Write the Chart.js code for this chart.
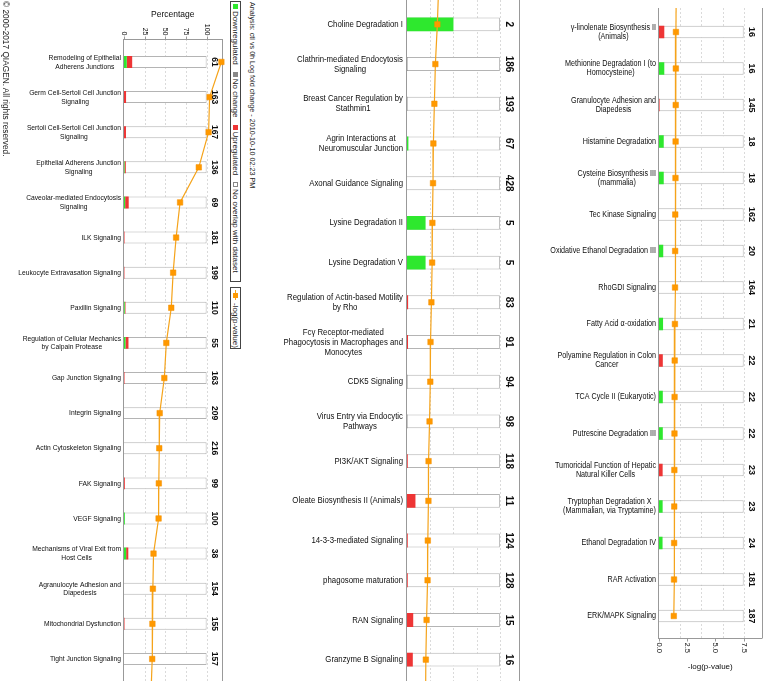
<!DOCTYPE html>
<html>
<head>
<meta charset="utf-8">
<script src="https://cdn.jsdelivr.net/npm/chart.js@4.4.1/dist/chart.umd.min.js"></script>
<style>
  html, body { margin: 0; padding: 0; background: #fff; overflow: hidden; }
  body { width: 766px; height: 681px; position: relative; }
  canvas { position: absolute; top: 0; }
  .rot {
    position: absolute; transform-origin: 0 0; transform: rotate(90deg);
    white-space: nowrap; font-family: "Liberation Sans", Arial, sans-serif; color: #222;
  }
  .box { border: 1px solid #444; box-sizing: border-box; display: flex; align-items: center; padding-left: 2px; }
  .sw { display: inline-block; width: 5px; height: 5px; margin-right: 2px; box-sizing: border-box; }
  .item { display: flex; align-items: center; margin-right: 7px; font-size: 8px; line-height: 9px; }
</style>
</head>
<body>
<canvas id="chart1" width="226" height="681" style="left:0px"></canvas>
<canvas id="chart2" width="253" height="684" style="left:270px"></canvas>
<canvas id="chart3" width="236" height="681" style="left:530px"></canvas>

<div class="rot" style="left:10px; top:1px; font-size:8.3px; line-height:9px;">© 2000-2017 QIAGEN. All rights reserved.</div>
<div class="rot" style="left:256px; top:2px; font-size:7.2px; line-height:8px;">Analysis: ctl vs 0h Log fold change - 2010-10-10 02:23 PM</div>
<div class="rot box" style="left:241px; top:1px; width:281px; height:11px;">
  <span class="item"><span class="sw" style="background:#2ee82e"></span>Downregulated</span>
  <span class="item"><span class="sw" style="background:#888"></span>No change</span>
  <span class="item"><span class="sw" style="background:#ee3535"></span>Upregulated</span>
  <span class="item"><span class="sw" style="background:#fff; border:1px solid #888"></span>No overlap with dataset</span>
</div>
<div class="rot box" style="left:241px; top:287px; width:62px; height:11px;">
  <span class="item"><span style="position:relative; display:inline-block; width:10px; height:5px; margin-right:3px;"><span style="position:absolute; left:0; top:2px; width:10px; height:1px; background:#f5a31a"></span><span style="position:absolute; left:2.5px; top:0; width:5px; height:5px; background:#ff9900"></span></span>-log(p-value)</span>
</div>

<script>
const pctTicks = [0, 25, 50, 75, 100]
const logTicks = [0, 2.5, 5, 7.5]

// panel 1
const labels1 = [
  ['Remodeling of Epithelial', 'Adherens Junctions'],
  ['Germ Cell-Sertoli Cell Junction', 'Signaling'],
  ['Sertoli Cell-Sertoli Cell Junction', 'Signaling'],
  ['Epithelial Adherens Junction', 'Signaling'],
  ['Caveolar-mediated Endocytosis', 'Signaling'],
  'ILK Signaling',
  'Leukocyte Extravasation Signaling',
  'Paxillin Signaling',
  ['Regulation of Cellular Mechanics', 'by Calpain Protease'],
  'Gap Junction Signaling',
  'Integrin Signaling',
  'Actin Cytoskeleton Signaling',
  'FAK Signaling',
  'VEGF Signaling',
  ['Mechanisms of Viral Exit from', 'Host Cells'],
  ['Agranulocyte Adhesion and', 'Diapedesis'],
  'Mitochondrial Dysfunction',
  'Tight Junction Signaling',
]
const counts1 = [61, 163, 167, 136, 69, 181, 199, 110, 55, 163, 209, 216, 99, 100, 38, 154, 155, 157]
const down1 = [3.3, 0, 0, 0.7, 1.4, 0, 0, 0.9, 1.8, 0, 0, 0, 0, 1.0, 2.6, 0, 0, 0]
const nochange1 = [0, 0, 0, 0, 0, 0, 0, 0, 0, 0, 0, 0, 0, 0, 0, 0, 0, 0]
const up1 = [6.6, 2.5, 2.4, 1.5, 4.3, 0.6, 0.5, 0.9, 3.6, 0.6, 0, 0, 1.0, 0, 2.6, 0, 0.6, 0]
const logp1 = [8.84, 7.77, 7.68, 6.79, 5.09, 4.73, 4.46, 4.29, 3.84, 3.66, 3.24, 3.2, 3.16, 3.14, 2.68, 2.62, 2.58, 2.56]

// panel 2
const labels2 = [
  'Choline Degradation I',
  ['Clathrin-mediated Endocytosis', 'Signaling'],
  ['Breast Cancer Regulation by', 'Stathmin1'],
  ['Agrin Interactions at', 'Neuromuscular Junction'],
  'Axonal Guidance Signaling',
  'Lysine Degradation II',
  'Lysine Degradation V',
  ['Regulation of Actin-based Motility', 'by Rho'],
  ['Fcγ Receptor-mediated', 'Phagocytosis in Macrophages and', 'Monocytes'],
  'CDK5 Signaling',
  ['Virus Entry via Endocytic', 'Pathways'],
  'PI3K/AKT Signaling',
  'Oleate Biosynthesis II (Animals)',
  '14-3-3-mediated Signaling',
  'phagosome maturation',
  'RAN Signaling',
  'Granzyme B Signaling',
]
const counts2 = [2, 186, 193, 67, 428, 5, 5, 83, 91, 94, 98, 118, 11, 124, 128, 15, 16]
const down2 = [50, 0, 0, 1.5, 0, 20, 20, 0, 0, 0, 0, 0, 0, 0, 0, 0, 0]
const nochange2 = [0, 0.5, 0.5, 0, 0, 0, 0, 0, 0, 0.5, 0.5, 0, 0, 0, 0, 0, 0]
const up2 = [0, 0, 0, 0, 0, 0, 0, 1.2, 1.1, 0, 0, 0.8, 9.1, 0.8, 0.8, 6.7, 6.25]
const logp2 = [2.45, 2.29, 2.21, 2.13, 2.1, 2.05, 2.03, 1.97, 1.9, 1.88, 1.82, 1.74, 1.73, 1.68, 1.66, 1.58, 1.52]

// panel 3
const labels3 = [
  ['γ-linolenate Biosynthesis II', '(Animals)'],
  ['Methionine Degradation I (to', 'Homocysteine)'],
  ['Granulocyte Adhesion and', 'Diapedesis'],
  'Histamine Degradation',
  ['Cysteine Biosynthesis III', '(mammalia)'],
  'Tec Kinase Signaling',
  'Oxidative Ethanol Degradation III',
  'RhoGDI Signaling',
  'Fatty Acid α-oxidation',
  ['Polyamine Regulation in Colon', 'Cancer'],
  'TCA Cycle II (Eukaryotic)',
  'Putrescine Degradation III',
  ['Tumoricidal Function of Hepatic', 'Natural Killer Cells'],
  ['Tryptophan Degradation X', '(Mammalian, via Tryptamine)'],
  'Ethanol Degradation IV',
  'RAR Activation',
  'ERK/MAPK Signaling',
]
const counts3 = [16, 16, 145, 18, 18, 162, 20, 164, 21, 22, 22, 22, 23, 23, 24, 181, 187]
const down3 = [0, 6.25, 0, 5.6, 5.6, 0, 5, 0, 4.8, 0, 4.5, 4.5, 0, 4.3, 4.2, 0, 0]
const nochange3 = [0, 0, 0, 0, 0, 0, 0, 0, 0, 0, 0, 0, 0, 0, 0, 0, 0]
const up3 = [6.25, 0, 0.7, 0, 0, 0, 0, 0, 0, 4.5, 0, 0, 4.3, 0, 0, 0, 0]
const logp3 = [1.5, 1.49, 1.48, 1.47, 1.46, 1.44, 1.43, 1.42, 1.41, 1.39, 1.38, 1.37, 1.36, 1.35, 1.34, 1.33, 1.31]

;(() => {
  'use strict'

  const GREEN = '#2ee82e'
  const GRAY = '#888888'
  const RED = '#ee3535'
  const ORANGE = '#f5a31a'
  const SANS = '"Liberation Sans", Arial, sans-serif'

  // draws the IPA-style frame, labels, counts and axes around each panel
  const ipaPanel = {
    id: 'ipaPanel',
    beforeDatasetsDraw(chart, args, o) {
      const { ctx, chartArea: a, scales: { x } } = chart
      ctx.save()
      ctx.lineWidth = 1
      ctx.strokeStyle = '#dadada'
      ctx.setLineDash([2, 2])
      pctTicks.slice(1).forEach(v => {
        const px = Math.round(x.getPixelForValue(v)) + 0.5
        ctx.beginPath()
        ctx.moveTo(px, o.frameTop)
        ctx.lineTo(px, o.frameBottom)
        ctx.stroke()
      })
      ctx.setLineDash([])
      ctx.strokeStyle = '#999'
      const l = Math.round(a.left) - 0.5
      const r = Math.round(a.right) + 0.5
      ctx.beginPath()
      ctx.moveTo(l, o.frameTop); ctx.lineTo(l, o.frameBottom)
      ctx.moveTo(r, o.frameTop); ctx.lineTo(r, o.frameBottom)
      ctx.stroke()
      ctx.restore()
    },
    beforeDatasetDraw(chart, args, o) {
      if (args.meta.type !== 'line') return
      // the p-value line carries on into the neighbouring panels
      const { ctx, chartArea: a, scales: { x2, y } } = chart
      const vals = chart.data.datasets[args.index].data
      const n = vals.length
      ctx.save()
      ctx.beginPath()
      ctx.rect(a.left, o.frameTop, a.right - a.left, o.frameBottom - o.frameTop)
      ctx.clip()
      ctx.strokeStyle = ORANGE
      ctx.lineWidth = 1.2
      ctx.beginPath()
      if (o.prev != null) {
        ctx.moveTo(x2.getPixelForValue(o.prev), y.getPixelForValue(-1))
        ctx.lineTo(x2.getPixelForValue(vals[0]), y.getPixelForValue(0))
      }
      if (o.next != null) {
        ctx.moveTo(x2.getPixelForValue(vals[n - 1]), y.getPixelForValue(n - 1))
        ctx.lineTo(x2.getPixelForValue(o.next), y.getPixelForValue(n))
      }
      ctx.stroke()
      ctx.restore()
    },
    afterDatasetsDraw(chart, args, o) {
      const { ctx, chartArea: a, scales: { x, x2, y } } = chart
      ctx.save()
      ctx.fillStyle = '#0d0d0d'

      // pathway names: condensed, lines centred on each other, block right aligned
      ctx.font = o.labelFont
      ctx.textAlign = 'center'
      ctx.textBaseline = 'middle'
      const sx = o.labelSqueeze
      chart.data.labels.forEach((lab, i) => {
        const lines = [].concat(lab)
        const w = Math.max(...lines.map(s => ctx.measureText(s).width)) * sx
        const cx = a.left - o.labelGap - w / 2
        const y0 = y.getPixelForValue(i) - (lines.length - 1) * o.lineHeight / 2
        lines.forEach((s, k) => {
          ctx.save()
          ctx.translate(cx, y0 + k * o.lineHeight)
          ctx.scale(sx, 1)
          ctx.fillText(s, 0, 0)
          ctx.restore()
        })
      })

      // gene counts, rotated
      ctx.font = o.countFont
      const cxp = x.getPixelForValue(100) + o.countGap
      o.counts.forEach((c, i) => {
        ctx.save()
        ctx.translate(cxp, y.getPixelForValue(i))
        ctx.rotate(Math.PI / 2)
        ctx.fillText(String(c), 0, 0)
        ctx.restore()
      })

      ctx.strokeStyle = '#999'
      ctx.lineWidth = 1
      if (o.axis === 'top') {
        const ay = o.frameTop + 0.5
        ctx.beginPath()
        ctx.moveTo(a.left, ay); ctx.lineTo(a.right + 1, ay)
        pctTicks.forEach(v => {
          const px = Math.round(x.getPixelForValue(v)) + 0.5
          ctx.moveTo(px, ay); ctx.lineTo(px, ay - 3)
        })
        ctx.stroke()
        ctx.font = o.tickFont
        ctx.textAlign = 'right'
        pctTicks.forEach(v => {
          ctx.save()
          ctx.translate(x.getPixelForValue(v), ay - 4)
          ctx.rotate(Math.PI / 2)
          ctx.fillText(String(v), 0, 0)
          ctx.restore()
        })
        ctx.font = o.titleFont
        ctx.textAlign = 'center'
        ctx.fillText('Percentage', (a.left + a.right) / 2, o.titleY)
      }
      if (o.axis === 'bottom') {
        const ay = o.frameBottom + 0.5
        ctx.beginPath()
        ctx.moveTo(a.left - 1, ay); ctx.lineTo(a.right + 1, ay)
        logTicks.forEach(v => {
          const px = Math.round(x2.getPixelForValue(v)) + 0.5
          ctx.moveTo(px, ay); ctx.lineTo(px, ay + 3)
        })
        ctx.stroke()
        ctx.font = o.tickFont
        ctx.textAlign = 'left'
        logTicks.forEach(v => {
          ctx.save()
          ctx.translate(x2.getPixelForValue(v), ay + 4)
          ctx.rotate(Math.PI / 2)
          ctx.fillText(v.toFixed(1), 0, 0)
          ctx.restore()
        })
        ctx.font = o.titleFont
        ctx.textAlign = 'center'
        ctx.fillText('-log(p-value)', (a.left + a.right) / 2, o.titleY)
      }
      ctx.restore()
    }
  }

  function makePanel(id, labels, down, nochange, up, logp, opts) {
    const bar = { barPercentage: opts.barPct, categoryPercentage: 1, borderWidth: 0, stack: 'genes', order: 1 }
    return new Chart(document.getElementById(id), {
      type: 'bar',
      data: {
        labels: labels,
        datasets: [
          {
            data: labels.map(() => 100),
            backgroundColor: '#fff',
            borderColor: '#b4b4b4',
            borderWidth: 1,
            barPercentage: opts.barPct,
            categoryPercentage: 1,
            stack: 'total',
            grouped: false,
            order: 3,
          },
          { ...bar, data: down, backgroundColor: GREEN },
          { ...bar, data: nochange, backgroundColor: GRAY },
          { ...bar, data: up, backgroundColor: RED },
          {
            type: 'line',
            indexAxis: 'y',
            xAxisID: 'x2',
            data: logp,
            borderColor: ORANGE,
            borderWidth: 1.2,
            tension: 0,
            pointStyle: 'rect',
            pointRadius: 3.9,
            pointBackgroundColor: '#ff9900',
            pointBorderColor: '#f39000',
            pointBorderWidth: 0.5,
            clip: false,
            order: 0,
          },
        ]
      },
      options: {
        indexAxis: 'y',
        responsive: false,
        animation: false,
        events: [],
        layout: { padding: opts.padding },
        scales: {
          x: { type: 'linear', min: 0, max: opts.max, stacked: true, display: false },
          x2: { type: 'linear', min: 0, max: opts.max * 0.075, display: false },
          y: { type: 'category', stacked: true, display: false },
        },
        plugins: {
          legend: { display: false },
          tooltip: { enabled: false },
          ipaPanel: opts,
        }
      },
      plugins: [ipaPanel]
    })
  }

  makePanel('chart1', labels1, down1, nochange1, up1, logp1, {
    padding: { left: 124, right: 3, top: 44.4, bottom: 1.6 },
    max: 118,
    barPct: 0.34,
    frameTop: 39,
    frameBottom: 681,
    labelFont: '8px ' + SANS,
    labelSqueeze: 0.84,
    lineHeight: 8.7,
    labelGap: 3,
    countFont: 'bold 8.5px ' + SANS,
    countGap: 8,
    counts: counts1,
    axis: 'top',
    tickFont: '7px ' + SANS,
    titleFont: '8.5px ' + SANS,
    titleY: 15,
    next: logp2[0],
  })

  makePanel('chart2', labels2, down2, nochange2, up2, logp2, {
    padding: { left: 137, right: 2, top: 2.5, bottom: 0.5 },
    max: 120,
    barPct: 0.35,
    frameTop: 0,
    frameBottom: 684,
    labelFont: '9.3px ' + SANS,
    labelSqueeze: 0.84,
    lineHeight: 10,
    labelGap: 4,
    countFont: 'bold 10px ' + SANS,
    countGap: 9,
    counts: counts2,
    axis: null,
    prev: logp1[logp1.length - 1],
    next: logp3[0],
  })

  makePanel('chart3', labels3, down3, nochange3, up3, logp3, {
    padding: { left: 129, right: 3, top: 13.75, bottom: 46.75 },
    max: 121,
    barPct: 0.34,
    frameTop: 8,
    frameBottom: 638,
    labelFont: '8.4px ' + SANS,
    labelSqueeze: 0.86,
    lineHeight: 9.3,
    labelGap: 3,
    countFont: 'bold 9px ' + SANS,
    countGap: 8,
    counts: counts3,
    axis: 'bottom',
    tickFont: '7.5px ' + SANS,
    titleFont: '8px ' + SANS,
    titleY: 667,
    prev: logp2[logp2.length - 1],
  })
})()
</script>
</body>
</html>
